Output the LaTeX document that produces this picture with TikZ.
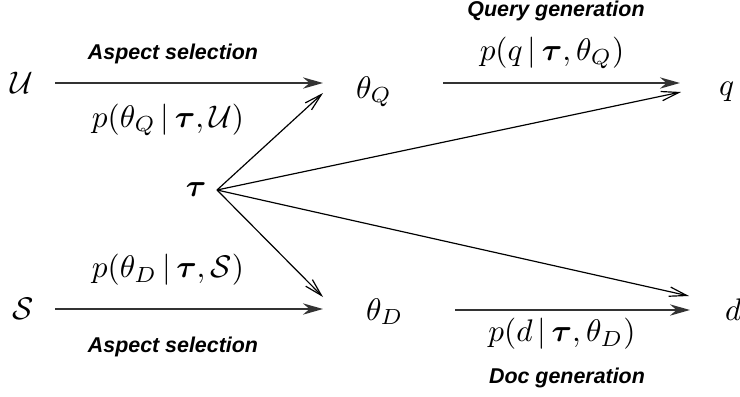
\documentclass[tikz,border=0pt]{standalone}
\usepackage{amsmath,amsbsy}
\usepackage{fontspec}
\newfontfamily\labelfont{Liberation Sans}
\usetikzlibrary{arrows.meta,calc}

\tikzset{
  mathnode/.style={inner sep=0pt, outer sep=0pt},
  stagelabel/.style={inner sep=0pt, font=\labelfont\fontsize{6.85}{8}\selectfont\bfseries\itshape},
  problabel/.style={inner sep=0pt},
  harrow/.style={line width=0.7pt, draw=black!80,
    -{Stealth[length=6.4pt,width=3.6pt,inset=2.1pt]}},
  darrow/.style={line width=0.38pt, draw=black,
    -{Straight Barb[length=5.6pt,width=3pt]}},
}

\begin{document}
\begin{tikzpicture}[x=0.32pt,y=-0.32pt]
\useasboundingbox (0,0) rectangle (740,396);

% variables
\node[mathnode] (U) at (22,83) {$\mathcal{U}$};
\node[mathnode] (S) at (23,309) {$\mathcal{S}$};
\node[mathnode, anchor=base west] (thQ) at (356,98) {$\theta_Q$};
\node[mathnode, anchor=base west] (thD) at (366,320) {$\theta_D$};
\node[mathnode, anchor=base west] (q) at (719,95) {$q$};
\node[mathnode, anchor=base west] (d) at (725,320) {$d$};
\node[mathnode] (tau) at (196,190) {$\boldsymbol{\tau}$};
\coordinate (fan) at ($(tau.center)+(21,0)$);

% generation steps
\draw[harrow] ($(U.center)+(33,0)$) -- ($(thQ.base west)+(-33,-15)$);
\draw[harrow] ($(thQ.base west)+(87,-15)$) -- ($(q.base west)+(-39,-12)$);
\draw[harrow] ($(S.center)+(32,0)$) -- ($(thD.base west)+(-43,-11)$);
\draw[harrow] ($(thD.base west)+(89,-10)$) -- ($(d.base west)+(-35,-10)$);

% dependence on tau
\draw[darrow] (fan) -- ($(thQ.base west)+(-33,-5)$);
\draw[darrow] (fan) -- ($(q.base west)+(-38,-3)$);
\draw[darrow] (fan) -- ($(thD.base west)+(-43,-23)$);
\draw[darrow] (fan) -- ($(d.base west)+(-36,-24)$);

% labels
\node[stagelabel] (selQ) at (173,54) {Aspect selection};
\node[problabel] (pQ) at (168,120) {$p(\theta_Q\,|\,\boldsymbol{\tau},\mathcal{U})$};
\node[stagelabel] (genQ) at (556,11) {Query generation};
\node[problabel] (pq) at (552,53) {$p(q\,|\,\boldsymbol{\tau},\theta_Q)$};
\node[problabel] (pD) at (168,270) {$p(\theta_D\,|\,\boldsymbol{\tau},\mathcal{S})$};
\node[stagelabel] (selD) at (173,347) {Aspect selection};
\node[problabel] (pd) at (562,334) {$p(d\,|\,\boldsymbol{\tau},\theta_D)$};
\node[stagelabel] (genD) at (567,378) {Doc generation};
\end{tikzpicture}
\end{document}
